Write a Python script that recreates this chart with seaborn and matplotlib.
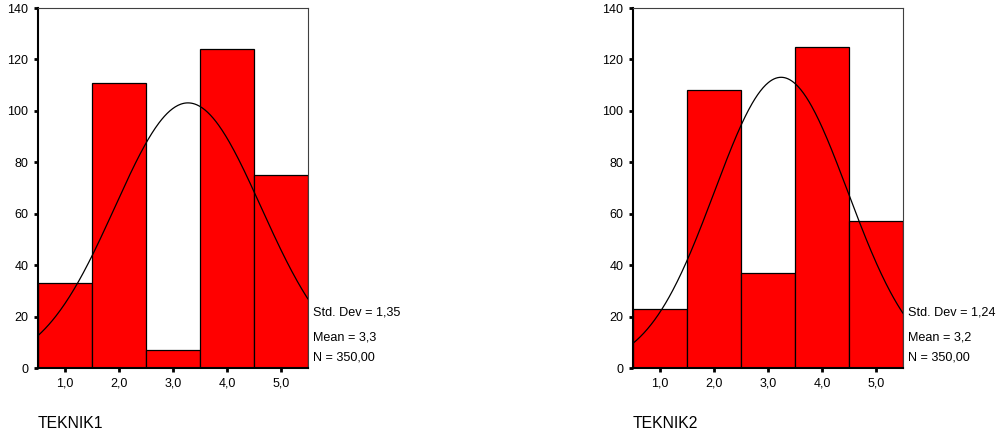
import numpy as np
import pandas as pd
import matplotlib
matplotlib.use("Agg")
import matplotlib.pyplot as plt
import seaborn as sns

values = [1, 2, 3, 4, 5]
teknik1_counts = [33, 111, 7, 124, 75]
teknik2_counts = [23, 108, 37, 125, 57]
titles = ["TEKNIK1", "TEKNIK2"]
std_labels = ["1,35", "1,24"]
mean_labels = ["3,3", "3,2"]
n_label = "350,00"
x_ticks = [1, 2, 3, 4, 5]
x_tick_labels = ["1,0", "2,0", "3,0", "4,0", "5,0"]
y_ticks = [0, 20, 40, 60, 80, 100, 120, 140]

sns.set_theme(style="white")
plt.rcParams['font.family'] = ['Liberation Sans', 'DejaVu Sans']

fig = plt.figure(figsize=(10.02, 4.36), dpi=100)
axes_pos = [[38/1002, 1-368/436, 270/1002, 360/436],
            [633/1002, 1-368/436, 270/1002, 360/436]]

for i, counts in enumerate([teknik1_counts, teknik2_counts]):
    ax = fig.add_axes(axes_pos[i])
    df = pd.DataFrame({"value": values, "count": counts})
    sns.histplot(data=df, x="value", weights="count", bins=[0.5, 1.5, 2.5, 3.5, 4.5, 5.5],
                 color="#FF0000", alpha=1, edgecolor="black", linewidth=0.9, ax=ax)
    v = np.array(values, float)
    c = np.array(counts, float)
    n = c.sum()
    mu = (v * c).sum() / n
    sd = np.sqrt(((v - mu) ** 2 * c).sum() / (n - 1))
    xs = np.linspace(0.5, 5.5, 300)
    ys = n * 1.0 / (sd * np.sqrt(2 * np.pi)) * np.exp(-0.5 * ((xs - mu) / sd) ** 2)
    sns.lineplot(x=xs, y=ys, color="black", linewidth=0.9, ax=ax)
    ax.set_xlim(0.5, 5.5)
    ax.set_ylim(0, 140)
    ax.set_xticks(x_ticks)
    ax.set_xticklabels(x_tick_labels)
    ax.set_yticks(y_ticks)
    ax.set_xlabel("")
    ax.set_ylabel("")
    ax.tick_params(axis="both", which="both", direction="out", length=3, width=2,
                   color="black", labelsize=9, labelcolor="black", pad=4,
                   bottom=True, left=True)
    for side in ["left", "bottom"]:
        ax.spines[side].set_color("black")
        ax.spines[side].set_linewidth(1.5)
    for side in ["top", "right"]:
        ax.spines[side].set_color("#404040")
        ax.spines[side].set_linewidth(0.8)
    ax.set_facecolor("white")
    ax.text(1.02, 0.153, f"Std. Dev = {std_labels[i]}", transform=ax.transAxes,
            fontsize=9.1, va="center", ha="left", color="black")
    ax.text(1.02, 0.086, f"Mean = {mean_labels[i]}", transform=ax.transAxes,
            fontsize=9.1, va="center", ha="left", color="black")
    ax.text(1.02, 0.028, f"N = {n_label}", transform=ax.transAxes,
            fontsize=9.1, va="center", ha="left", color="black")
    ax.text(0.0, -0.155, titles[i], transform=ax.transAxes, fontsize=11.3,
            va="center", ha="left", color="black")

fig.savefig("out.png", dpi=100, facecolor="white")
